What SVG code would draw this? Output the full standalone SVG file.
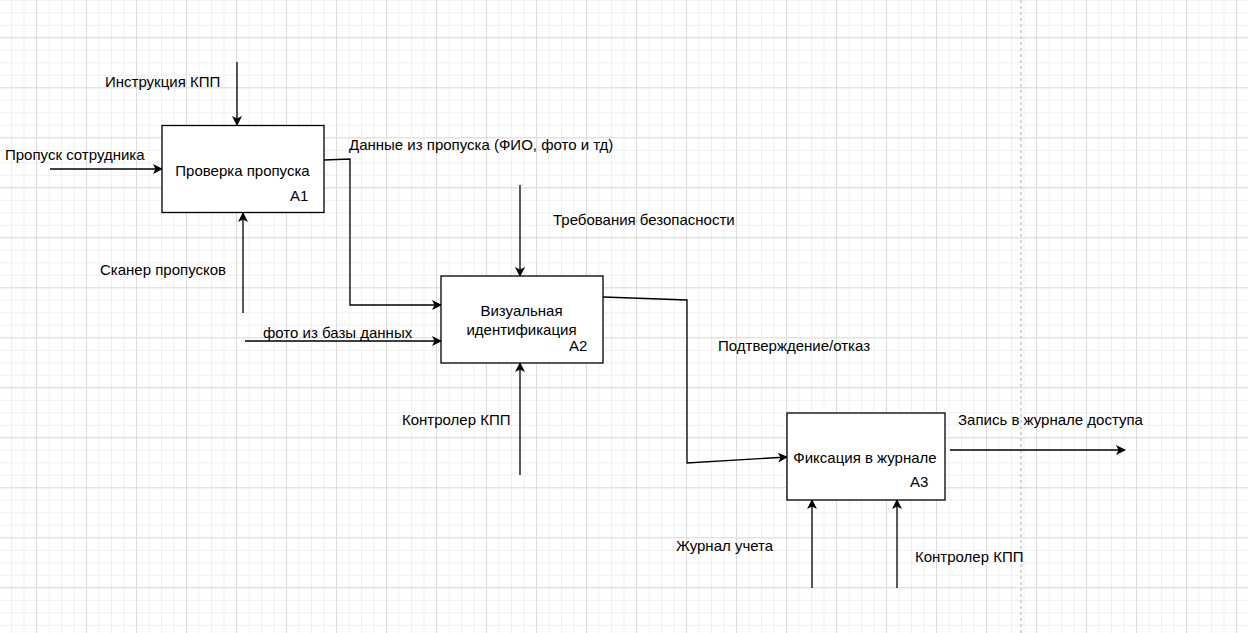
<svg xmlns="http://www.w3.org/2000/svg" width="1248" height="633" viewBox="0 0 1248 633">
<style>
text{font-family:"Liberation Sans",Arial,sans-serif;font-size:15px;fill:#000}
.box{fill:#fff;stroke:#000;stroke-width:1.3}
.c{fill:none;stroke:#000;stroke-width:1.3}
.m{text-anchor:middle}
</style>
<defs>
<pattern id="gmin" patternUnits="userSpaceOnUse" x="11" y="-0.2" width="12.5" height="12.5">
<path d="M0.5 0V12.5M0 0.5H12.5" stroke="#f0f0f0" stroke-width="1" fill="none"/>
</pattern>
<pattern id="gmaj" patternUnits="userSpaceOnUse" x="36" y="-12.7" width="50" height="50">
<path d="M0.5 0V50M0 0.5H50" stroke="#dcdcdc" stroke-width="1" fill="none"/>
</pattern>
<marker id="arr" viewBox="0 0 10 10" refX="9" refY="5" markerWidth="10" markerHeight="10" markerUnits="userSpaceOnUse" orient="auto">
<path d="M0 0L10 5L0 10L2.5 5Z" fill="#000"/>
</marker>
</defs>
<rect width="1248" height="633" fill="#fff"/>
<rect width="1248" height="633" fill="url(#gmin)"/>
<rect width="1248" height="633" fill="url(#gmaj)"/>
<line x1="1021" y1="0" x2="1021" y2="633" stroke="#c8c8c8" stroke-width="1.5" stroke-dasharray="3 3"/>

<g id="connectors">
<path class="c" d="M237 62V125" marker-end="url(#arr)"/>
<path class="c" d="M50 169H162" marker-end="url(#arr)"/>
<path class="c" d="M243 313V213" marker-end="url(#arr)"/>
<path class="c" d="M324 160L350 159V305H441" marker-end="url(#arr)"/>
<path class="c" d="M520 185V276" marker-end="url(#arr)"/>
<path class="c" d="M245 341H441" marker-end="url(#arr)"/>
<path class="c" d="M520 475V363" marker-end="url(#arr)"/>
<path class="c" d="M603 297L687 300V463L787 457" marker-end="url(#arr)"/>
<path class="c" d="M950 450H1125" marker-end="url(#arr)"/>
<path class="c" d="M812 588V500" marker-end="url(#arr)"/>
<path class="c" d="M897 588V500" marker-end="url(#arr)"/>
<text x="105" y="87">Инструкция КПП</text>
<text x="5" y="160">Пропуск сотрудника</text>
<text x="100" y="275">Сканер пропусков</text>
<text x="349" y="150">Данные из пропуска (ФИО, фото и тд)</text>
<text x="553" y="225">Требования безопасности</text>
<text x="263" y="338">фото из базы данных</text>
<text x="402" y="425">Контролер КПП</text>
<text x="718" y="351">Подтверждение/отказ</text>
<text x="958" y="425">Запись в журнале доступа</text>
<text x="676" y="551">Журнал учета</text>
<text x="915" y="562">Контролер КПП</text>
</g>

<g id="A1">
<rect class="box" x="162" y="125.5" width="162" height="87"/>
<text class="m" x="242.5" y="176">Проверка пропуска</text>
<text x="290" y="201">A1</text>
</g>
<g id="A2">
<rect class="box" x="441" y="276" width="162" height="87"/>
<text class="m" x="521.5" y="316">Визуальная</text>
<text class="m" x="521.5" y="335">идентификация</text>
<text x="569" y="351">A2</text>
</g>
<g id="A3">
<rect class="box" x="787" y="413" width="158" height="87"/>
<text class="m" x="865" y="463">Фиксация в журнале</text>
<text x="910" y="487">A3</text>
</g>
</svg>
